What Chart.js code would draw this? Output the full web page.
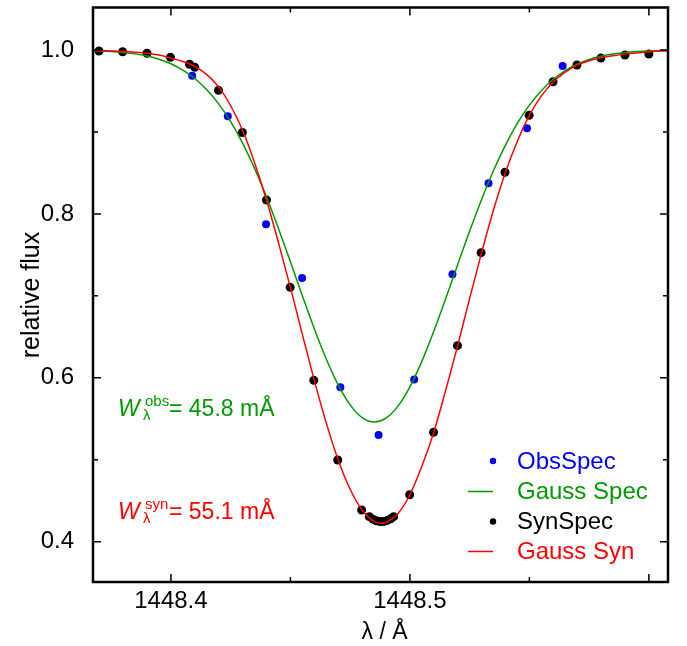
<!DOCTYPE html>
<html>
<head>
<meta charset="utf-8">
<script src="https://cdn.jsdelivr.net/npm/chart.js@4.4.0/dist/chart.umd.min.js"></script>
<style>
  html, body { margin: 0; padding: 0; background: #fff; }
  #wrap { position: relative; width: 687px; height: 646px; }
</style>
</head>
<body>
<div id="wrap"><canvas id="fluxChart"></canvas></div>
<script>
// observed spectrum points
const obsX = [1448.4089, 1448.4238, 1448.4398, 1448.4549, 1448.4709, 1448.4869, 1448.5018, 1448.5178, 1448.5329, 1448.5490, 1448.5639]
const obsY = [0.9686, 0.9191, 0.7873, 0.7218, 0.5884, 0.5302, 0.5979, 0.7263, 0.8373, 0.9045, 0.9805]

// synthetic spectrum points
const synX = [1448.3699, 1448.3798, 1448.3900, 1448.3998, 1448.4078, 1448.4100, 1448.4199, 1448.4299, 1448.4400, 1448.4499,
  1448.4598, 1448.4698, 1448.4798, 1448.4830, 1448.4845, 1448.4860, 1448.4875, 1448.4890, 1448.4905, 1448.4920,
  1448.4932, 1448.4999, 1448.5099, 1448.5199, 1448.5298, 1448.5398, 1448.5499, 1448.5599, 1448.5699, 1448.5799,
  1448.5900, 1448.6000]
const synY = [0.9988, 0.9979, 0.9960, 0.9911, 0.9826, 0.9789, 0.9508, 0.8993, 0.8170, 0.7104,
  0.5969, 0.4997, 0.4387, 0.4305, 0.4275, 0.4255, 0.4245, 0.4245, 0.4260, 0.4280,
  0.4305, 0.4573, 0.5336, 0.6392, 0.7527, 0.8508, 0.9203, 0.9613, 0.9817, 0.9902,
  0.9939, 0.9951]

const specX = [1448.365, 1448.370, 1448.375, 1448.380, 1448.385, 1448.390, 1448.395, 1448.400, 1448.405, 1448.410,
  1448.415, 1448.420, 1448.425, 1448.430, 1448.435, 1448.440, 1448.445, 1448.450, 1448.455, 1448.460,
  1448.465, 1448.470, 1448.475, 1448.480, 1448.4852, 1448.490, 1448.495, 1448.500, 1448.505, 1448.510,
  1448.515, 1448.520, 1448.525, 1448.530, 1448.535, 1448.540, 1448.545, 1448.550, 1448.555, 1448.560,
  1448.565, 1448.570, 1448.575, 1448.580, 1448.585, 1448.590, 1448.595, 1448.600, 1448.605, 1448.610]
const specY = [0.9994, 0.9989, 0.9982, 0.9970, 0.9953, 0.9926, 0.9888, 0.9833, 0.9756, 0.9653,
  0.9516, 0.9343, 0.9126, 0.8864, 0.8556, 0.8206, 0.7822, 0.7415, 0.7001, 0.6598,
  0.6229, 0.5913, 0.5670, 0.5515, 0.5460, 0.5507, 0.5654, 0.5890, 0.6201, 0.6567,
  0.6968, 0.7382, 0.7790, 0.8177, 0.8530, 0.8840, 0.9107, 0.9327, 0.9504, 0.9643,
  0.9749, 0.9827, 0.9884, 0.9924, 0.9951, 0.9969, 0.9981, 0.9989, 0.9993, 0.9996]

// Gauss fit of the synthetic spectrum
const synFitX = [1448.365, 1448.370, 1448.375, 1448.380, 1448.385, 1448.390, 1448.395, 1448.400, 1448.405, 1448.410,
  1448.415, 1448.420, 1448.425, 1448.430, 1448.435, 1448.440, 1448.445, 1448.450, 1448.455, 1448.460,
  1448.465, 1448.470, 1448.475, 1448.480, 1448.485, 1448.488, 1448.490, 1448.495, 1448.500, 1448.505,
  1448.510, 1448.515, 1448.520, 1448.525, 1448.530, 1448.535, 1448.540, 1448.545, 1448.550, 1448.555,
  1448.560, 1448.565, 1448.570, 1448.575, 1448.580, 1448.585, 1448.590, 1448.595, 1448.600, 1448.605, 1448.610]
const synFitY = [0.9997, 0.9993, 0.9988, 0.9982, 0.9973, 0.9960, 0.9938, 0.9900, 0.9860, 0.9800,
  0.9700, 0.9550, 0.9320, 0.9020, 0.8625, 0.8170, 0.7650, 0.7104, 0.6530, 0.5969,
  0.5450, 0.4997, 0.4640, 0.4387, 0.4249, 0.4225, 0.4234, 0.4343, 0.4573, 0.4920,
  0.5336, 0.5850, 0.6392, 0.6970, 0.7527, 0.8050, 0.8508, 0.8890, 0.9203, 0.9440,
  0.9610, 0.9730, 0.9817, 0.9870, 0.9905, 0.9930, 0.9950, 0.9965, 0.9978, 0.9987, 0.9993]

// axis ticks
const xTickValues = [1448.4, 1448.45, 1448.5, 1448.55, 1448.6]
const xTickLabels = ['1448.4', '', '1448.5', '', '']
const yTickValues = [0.4, 0.5, 0.6, 0.7, 0.8, 0.9, 1.0]
const yTickLabels = ['0.4', '', '0.6', '', '0.8', '', '1.0']

const FONT = "'Liberation Sans', Arial, Helvetica, sans-serif"
const BLUE = 'rgb(0,0,255)'
const GREEN = 'rgb(0,153,0)'
const RED = 'rgb(255,0,0)'

function toPoints(xs, ys) {
  return xs.map((x, i) => ({ x: x, y: ys[i] }))
}

function labelFor(values, labels, v) {
  let idx = values.findIndex(t => Math.abs(t - v) < 1e-6)
  return idx >= 0 ? labels[idx] : ''
}

// frame with inward ticks on all four sides
const framePlugin = {
  id: 'frame',
  afterDraw(chart) {
    const ctx = chart.ctx
    const a = chart.chartArea
    const xs = chart.scales.x
    const ys = chart.scales.y
    ctx.save()
    ctx.strokeStyle = '#000'
    ctx.lineWidth = 1.5
    xTickValues.forEach((v, i) => {
      let px = xs.getPixelForValue(v)
      let len = xTickLabels[i] || i === xTickValues.length - 1 ? 8 : 5
      ctx.beginPath()
      ctx.moveTo(px, a.bottom); ctx.lineTo(px, a.bottom - len)
      ctx.moveTo(px, a.top); ctx.lineTo(px, a.top + len)
      ctx.stroke()
    })
    yTickValues.forEach((v, i) => {
      let py = ys.getPixelForValue(v)
      let len = yTickLabels[i] ? 8 : 5
      ctx.beginPath()
      ctx.moveTo(a.left, py); ctx.lineTo(a.left + len, py)
      ctx.moveTo(a.right, py); ctx.lineTo(a.right - len, py)
      ctx.stroke()
    })
    ctx.lineWidth = 2.5
    ctx.strokeRect(a.left, a.top, a.right - a.left, a.bottom - a.top)
    ctx.restore()
  }
}

// legend, axis titles and equivalent width notes
const textPlugin = {
  id: 'texts',
  afterDraw(chart) {
    const ctx = chart.ctx
    const a = chart.chartArea
    ctx.save()
    ctx.textBaseline = 'middle'
    ctx.textAlign = 'left'
    ctx.font = '24px ' + FONT

    const items = [
      { text: 'ObsSpec', color: BLUE, kind: 'dot', y: 461 },
      { text: 'Gauss Spec', color: GREEN, kind: 'line', y: 491.5 },
      { text: 'SynSpec', color: '#000', kind: 'dot', y: 521.5 },
      { text: 'Gauss Syn', color: RED, kind: 'line', y: 551.5 }
    ]
    items.forEach(it => {
      ctx.fillStyle = it.color
      ctx.strokeStyle = it.color
      if (it.kind === 'dot') {
        ctx.beginPath()
        ctx.arc(493, it.y, 3.2, 0, Math.PI * 2)
        ctx.fill()
      } else {
        ctx.lineWidth = 1.5
        ctx.beginPath()
        ctx.moveTo(468, it.y); ctx.lineTo(493, it.y)
        ctx.stroke()
      }
      ctx.fillText(it.text, 517, it.y + 1)
    })

    // W_lambda notes
    function widthNote(sup, value, color, base) {
      ctx.fillStyle = color
      ctx.textBaseline = 'alphabetic'
      ctx.font = 'italic 23px ' + FONT
      ctx.fillText('W', 118, base)
      ctx.font = '15px ' + FONT
      ctx.fillText(sup, 145, base - 10)
      ctx.fillText('λ', 143, base + 4)
      ctx.font = '23px ' + FONT
      ctx.fillText('= ' + value + ' mÅ', 169, base)
    }
    widthNote('obs', '45.8', GREEN, 416)
    widthNote('syn', '55.1', RED, 519)

    // axis titles
    ctx.fillStyle = '#000'
    ctx.font = '23px ' + FONT
    ctx.textAlign = 'center'
    ctx.textBaseline = 'alphabetic'
    ctx.fillText('λ / Å', (a.left + a.right) / 2 + 4, 639)
    ctx.font = '25px ' + FONT
    ctx.translate(39, 295)
    ctx.rotate(-Math.PI / 2)
    ctx.fillText('relative flux', 0, 0)
    ctx.restore()
  }
}

const data = {
  datasets: [
    {
      label: 'Gauss Syn',
      data: toPoints(synFitX, synFitY),
      showLine: true,
      borderColor: RED,
      borderWidth: 1.5,
      pointRadius: 0,
      cubicInterpolationMode: 'monotone',
      order: 0
    },
    {
      label: 'Gauss Spec',
      data: toPoints(specX, specY),
      showLine: true,
      borderColor: GREEN,
      borderWidth: 1.5,
      pointRadius: 0,
      cubicInterpolationMode: 'monotone',
      order: 1
    },
    {
      label: 'ObsSpec',
      data: toPoints(obsX, obsY),
      showLine: false,
      backgroundColor: BLUE,
      borderColor: BLUE,
      borderWidth: 0,
      pointRadius: 4,
      order: 2
    },
    {
      label: 'SynSpec',
      data: toPoints(synX, synY),
      showLine: false,
      backgroundColor: '#000',
      borderColor: '#000',
      borderWidth: 0,
      pointRadius: 4.5,
      order: 3
    }
  ]
}

const options = {
  responsive: true,
  maintainAspectRatio: false,
  animation: false,
  layout: { padding: { top: 7.5, right: 19, left: 0, bottom: 0 } },
  plugins: { legend: { display: false }, tooltip: { enabled: false } },
  scales: {
    x: {
      type: 'linear',
      min: 1448.3674,
      max: 1448.608,
      grid: { display: false, drawTicks: false },
      border: { display: false },
      afterBuildTicks: axis => { axis.ticks = xTickValues.map(v => ({ value: v })) },
      afterFit: scale => {
        scale.height = 64
        scale.paddingLeft = 0
        scale.paddingRight = 0
      },
      ticks: {
        autoSkip: false,
        maxRotation: 0,
        padding: 5,
        color: '#000',
        font: { family: FONT, size: 24 },
        callback: v => labelFor(xTickValues, xTickLabels, v)
      }
    },
    y: {
      type: 'linear',
      min: 0.3508,
      max: 1.0519,
      grid: { display: false, drawTicks: false },
      border: { display: false },
      afterBuildTicks: axis => { axis.ticks = yTickValues.map(v => ({ value: v })) },
      afterFit: scale => {
        scale.width = 93
        scale.paddingTop = 0
        scale.paddingBottom = 0
      },
      ticks: {
        autoSkip: false,
        padding: 19,
        color: '#000',
        font: { family: FONT, size: 24 },
        callback: v => labelFor(yTickValues, yTickLabels, v)
      }
    }
  }
}

new Chart('fluxChart', { type: 'scatter', data, options, plugins: [framePlugin, textPlugin] })
</script>
</body>
</html>
